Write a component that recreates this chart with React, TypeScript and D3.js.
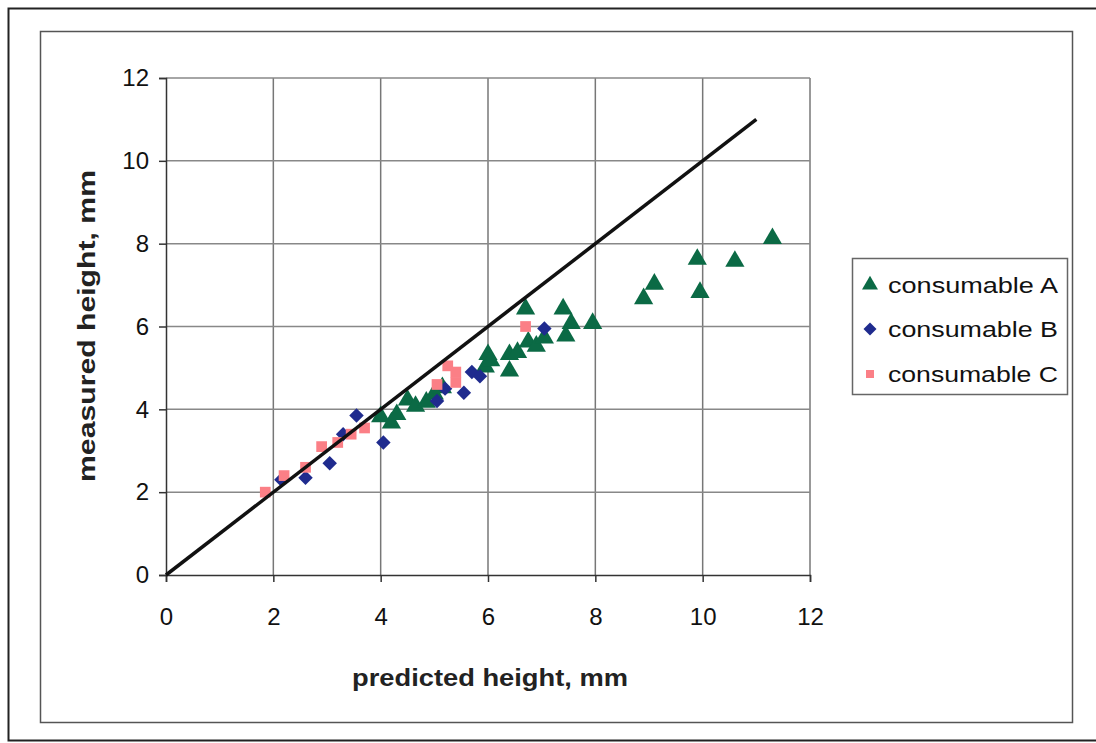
import React, { useEffect, useRef } from "react";
import * as d3 from "d3";

// 축 눈금 값
const xTicks = [0, 2, 4, 6, 8, 10, 12];
const yTicks = [0, 2, 4, 6, 8, 10, 12];

// 시리즈 이름
const seriesNames = ["consumable A", "consumable B", "consumable C"];

// consumable A : [predicted, measured]
const consumableA: [number, number][] = [
  [4.0, 3.8], [4.2, 3.65], [4.3, 3.85], [4.5, 4.2], [4.65, 4.05], [4.85, 4.15],
  [5.0, 4.35], [5.15, 4.5], [5.95, 5.0], [6.0, 5.3], [6.05, 5.15], [6.4, 5.3],
  [6.4, 4.9], [6.55, 5.35], [6.7, 6.4], [6.75, 5.6], [6.9, 5.5], [7.05, 5.7],
  [7.4, 6.4], [7.45, 5.75], [7.55, 6.05], [7.95, 6.05], [8.9, 6.65], [9.1, 7.0],
  [9.9, 7.6], [9.95, 6.8], [10.6, 7.55], [11.3, 8.1],
];

// consumable B
const consumableB: [number, number][] = [
  [2.15, 2.3], [2.6, 2.35], [3.05, 2.7], [3.3, 3.4], [3.55, 3.85], [4.05, 3.2],
  [5.05, 4.2], [5.2, 4.5], [5.55, 4.4], [5.7, 4.9], [5.85, 4.8], [7.05, 5.95],
];

// consumable C
const consumableC: [number, number][] = [
  [1.85, 2.0], [2.2, 2.4], [2.6, 2.6], [2.9, 3.1], [3.2, 3.2], [3.45, 3.4],
  [3.7, 3.55], [5.05, 4.6], [5.25, 5.05], [5.4, 4.9], [5.4, 4.65], [6.7, 6.0],
];

// 1:1 기준선 (시작, 끝)
const refLine = [0, 11];

const FONT = "'Liberation Sans', Arial, sans-serif";

const ScatterChart: React.FC = () => {
  const ref = useRef<HTMLDivElement>(null);

  useEffect(() => {
    if (!ref.current) return;
    d3.select(ref.current).selectAll("svg").remove();

    const width = 1096;
    const height = 743;

    const svg = d3.select(ref.current)
      .append("svg")
      .attr("width", width)
      .attr("height", height)
      .style("position", "absolute")
      .style("left", 0)
      .style("top", 0)
      .style("background", "#fff");

    // 바깥 테두리와 안쪽 테두리
    svg.append("rect")
      .attr("x", 8.5).attr("y", 8.5)
      .attr("width", 1110).attr("height", 732)
      .attr("fill", "none").attr("stroke", "#222").attr("stroke-width", 2);
    svg.append("rect")
      .attr("x", 40.5).attr("y", 31.5)
      .attr("width", 1032).attr("height", 691)
      .attr("fill", "none").attr("stroke", "#555").attr("stroke-width", 1.5);

    const xScale = d3.scaleLinear().domain([0, 12]).range([166, 810]);
    const yScale = d3.scaleLinear().domain([0, 12]).range([575, 78]);

    // 그리드 라인
    const grid = svg.append("g");
    grid.selectAll(".vgrid")
      .data(xTicks.filter(d => d > 0))
      .join("line")
      .attr("x1", d => xScale(d)).attr("x2", d => xScale(d))
      .attr("y1", yScale(12)).attr("y2", yScale(0))
      .attr("stroke", "#777").attr("stroke-width", 1.5);
    grid.selectAll(".hgrid")
      .data(yTicks.filter(d => d > 0))
      .join("line")
      .attr("x1", xScale(0)).attr("x2", xScale(12))
      .attr("y1", d => yScale(d)).attr("y2", d => yScale(d))
      .attr("stroke", "#888").attr("stroke-width", 1.5);

    // x축
    svg.append("g")
      .attr("transform", `translate(0,${yScale(0)})`)
      .call(d3.axisBottom(xScale).tickValues(xTicks).tickSize(7).tickPadding(26))
      .call(g => g.select(".domain").attr("stroke", "#333").attr("stroke-width", 1.5))
      .call(g => g.selectAll(".tick line").attr("stroke", "#333").attr("stroke-width", 1.5))
      .call(g => g.selectAll(".tick text")
        .attr("fill", "#111").style("font-family", FONT).style("font-size", "24px"));

    // y축
    svg.append("g")
      .attr("transform", `translate(${xScale(0)},0)`)
      .call(d3.axisLeft(yScale).tickValues(yTicks).tickSize(7).tickPadding(10))
      .call(g => g.select(".domain").attr("stroke", "#333").attr("stroke-width", 1.5))
      .call(g => g.selectAll(".tick line").attr("stroke", "#333").attr("stroke-width", 1.5))
      .call(g => g.selectAll(".tick text")
        .attr("fill", "#111").style("font-family", FONT).style("font-size", "24px"));

    // 축 제목
    svg.append("text")
      .attr("x", 490).attr("y", 686)
      .attr("text-anchor", "middle")
      .attr("textLength", 276).attr("lengthAdjust", "spacingAndGlyphs")
      .style("font-family", FONT).style("font-size", "24px").style("font-weight", "bold")
      .attr("fill", "#222")
      .text("predicted height, mm");
    svg.append("text")
      .attr("transform", "translate(95,326) rotate(-90)")
      .attr("text-anchor", "middle")
      .attr("textLength", 312).attr("lengthAdjust", "spacingAndGlyphs")
      .style("font-family", FONT).style("font-size", "24px").style("font-weight", "bold")
      .attr("fill", "#222")
      .text("measured height, mm");

    // 마커 모양 (다이아몬드는 정사각형을 45도 회전)
    const tri = d3.symbol().type(d3.symbolTriangle).size(160);
    const sq = d3.symbol().type(d3.symbolSquare);
    const markers = [
      { data: consumableA, path: tri(), color: "#0b6a45", dy: -1, rot: 0 },
      { data: consumableB, path: sq.size(105)(), color: "#1f2b8e", dy: 0, rot: 45 },
      { data: consumableC, path: sq.size(115)(), color: "#fb7f86", dy: 0, rot: 0 },
    ];

    markers.forEach(m => {
      svg.append("g")
        .selectAll("path")
        .data(m.data)
        .join("path")
        .attr("d", m.path)
        .attr("transform", d => `translate(${xScale(d[0])},${yScale(d[1]) + m.dy}) rotate(${m.rot})`)
        .attr("fill", m.color);
    });

    // 1:1 기준선
    svg.append("line")
      .attr("x1", xScale(refLine[0])).attr("y1", yScale(refLine[0]))
      .attr("x2", xScale(refLine[1])).attr("y2", yScale(refLine[1]))
      .attr("stroke", "#111").attr("stroke-width", 3.5);

    // 범례
    const legend = svg.append("g");
    legend.append("rect")
      .attr("x", 852.5).attr("y", 258.5)
      .attr("width", 215).attr("height", 136)
      .attr("fill", "#fff").attr("stroke", "#666").attr("stroke-width", 1.5);
    const legendY = [285, 329, 374];
    const legendPaths = [
      d3.symbol().type(d3.symbolTriangle).size(110)(),
      d3.symbol().type(d3.symbolSquare).size(85)(),
      d3.symbol().type(d3.symbolSquare).size(64)(),
    ];
    const legendRot = [0, 45, 0];
    seriesNames.forEach((name, i) => {
      legend.append("path")
        .attr("d", legendPaths[i])
        .attr("transform", `translate(870,${legendY[i]}) rotate(${legendRot[i]})`)
        .attr("fill", markers[i].color);
      legend.append("text")
        .attr("x", 888).attr("y", legendY[i] + 8)
        .attr("textLength", 170).attr("lengthAdjust", "spacingAndGlyphs")
        .style("font-family", FONT).style("font-size", "22px")
        .attr("fill", "#111")
        .text(name);
    });
  }, []);

  return <div ref={ref} />;
};

export default function App() {
  return <ScatterChart />;
}
